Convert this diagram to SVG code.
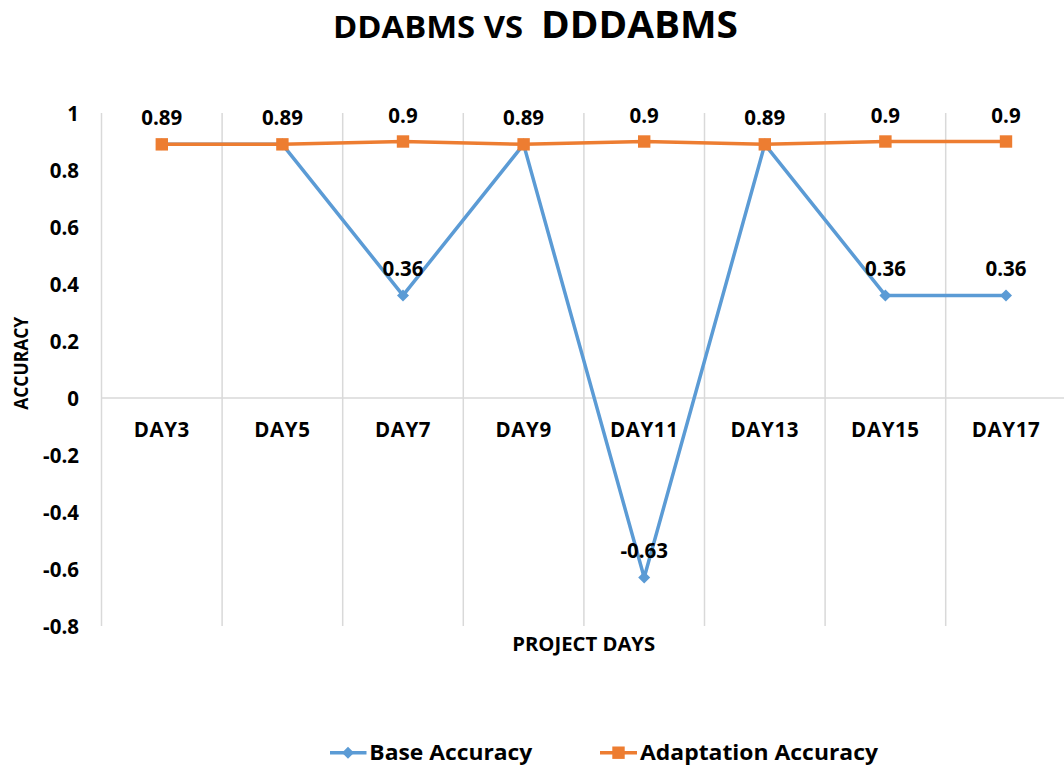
<svg xmlns="http://www.w3.org/2000/svg" width="1064" height="767" viewBox="0 0 1064 767">
<style>
text{font-family:"Open Sans","Noto Sans","Liberation Sans",sans-serif;font-weight:bold;fill:#000}
.tick{font-size:20.5px;text-anchor:end}
.cat{font-size:20.5px;text-anchor:middle;letter-spacing:0.6px}
.dl{font-size:20.5px;text-anchor:middle}
.grid{stroke:#d9d9d9;stroke-width:1.5;fill:none}
.base{stroke:#5b9bd5;stroke-width:3.5;fill:none;stroke-linejoin:round}
.adapt{stroke:#ed7d31;stroke-width:3.5;fill:none;stroke-linejoin:round}
.leg{font-size:21px}
</style>
<defs>
<path id="dia" d="M0,-6 L6,0 L0,6 L-6,0 Z" fill="#5b9bd5"/>
<rect id="sq" x="-6.2" y="-6.2" width="12.4" height="12.4" fill="#ed7d31"/>
</defs>
<rect width="1064" height="767" fill="#fff"/>
<g id="title">
<text x="333" y="38.3" font-size="29.5" textLength="190" lengthAdjust="spacingAndGlyphs">DDABMS VS</text>
<text x="541" y="38.3" font-size="37" textLength="197" lengthAdjust="spacingAndGlyphs">DDDABMS</text>
</g>
<g id="gridlines">
<line class="grid" x1="101.5" y1="113" x2="101.5" y2="626"/>
<line class="grid" x1="222.1" y1="113" x2="222.1" y2="626"/>
<line class="grid" x1="342.7" y1="113" x2="342.7" y2="626"/>
<line class="grid" x1="463.3" y1="113" x2="463.3" y2="626"/>
<line class="grid" x1="583.9" y1="113" x2="583.9" y2="626"/>
<line class="grid" x1="704.5" y1="113" x2="704.5" y2="626"/>
<line class="grid" x1="825.1" y1="113" x2="825.1" y2="626"/>
<line class="grid" x1="945.7" y1="113" x2="945.7" y2="626"/>
<line class="grid" x1="101.5" y1="398" x2="1064" y2="398"/>
</g>
<g id="y-axis">
<text class="tick" x="79" y="120.5">1</text>
<text class="tick" x="79" y="177.5">0.8</text>
<text class="tick" x="79" y="234.5">0.6</text>
<text class="tick" x="79" y="291.5">0.4</text>
<text class="tick" x="79" y="348.5">0.2</text>
<text class="tick" x="79" y="405.5">0</text>
<text class="tick" x="79" y="462.5">-0.2</text>
<text class="tick" x="79" y="519.5">-0.4</text>
<text class="tick" x="79" y="576.5">-0.6</text>
<text class="tick" x="79" y="633.5">-0.8</text>
<text x="0" y="0" font-size="18.8" text-anchor="middle" textLength="93" lengthAdjust="spacingAndGlyphs" transform="translate(28.3,363.3) rotate(-90)">ACCURACY</text>
</g>
<g id="x-axis">
<text class="cat" x="161.8" y="437">DAY3</text>
<text class="cat" x="282.4" y="437">DAY5</text>
<text class="cat" x="403" y="437">DAY7</text>
<text class="cat" x="523.6" y="437">DAY9</text>
<text class="cat" x="644.2" y="437">DAY11</text>
<text class="cat" x="764.8" y="437">DAY13</text>
<text class="cat" x="885.4" y="437">DAY15</text>
<text class="cat" x="1006" y="437">DAY17</text>
<text x="583.7" y="650.7" font-size="18.8" text-anchor="middle" textLength="143" lengthAdjust="spacingAndGlyphs">PROJECT DAYS</text>
</g>
<g id="connectors">
<polyline id="base-line" class="base" points="161.8,144.35 282.4,144.35 403,295.4 523.6,144.35 644.2,577.55 764.8,144.35 885.4,295.4 1006,295.4"/>
<g id="base-markers">
<use href="#dia" x="161.8" y="144.35"/>
<use href="#dia" x="282.4" y="144.35"/>
<use href="#dia" x="403" y="295.4"/>
<use href="#dia" x="523.6" y="144.35"/>
<use href="#dia" x="644.2" y="577.55"/>
<use href="#dia" x="764.8" y="144.35"/>
<use href="#dia" x="885.4" y="295.4"/>
<use href="#dia" x="1006" y="295.4"/>
</g>
<polyline id="adapt-line" class="adapt" points="161.8,144.35 282.4,144.35 403,141.5 523.6,144.35 644.2,141.5 764.8,144.35 885.4,141.5 1006,141.5"/>
<g id="adapt-markers">
<use href="#sq" x="161.8" y="144.35"/>
<use href="#sq" x="282.4" y="144.35"/>
<use href="#sq" x="403" y="141.5"/>
<use href="#sq" x="523.6" y="144.35"/>
<use href="#sq" x="644.2" y="141.5"/>
<use href="#sq" x="764.8" y="144.35"/>
<use href="#sq" x="885.4" y="141.5"/>
<use href="#sq" x="1006" y="141.5"/>
</g>
</g>
<g id="data-labels">
<text class="dl" x="161.8" y="125.3">0.89</text>
<text class="dl" x="282.4" y="125.3">0.89</text>
<text class="dl" x="403" y="122.5">0.9</text>
<text class="dl" x="523.6" y="125.3">0.89</text>
<text class="dl" x="644.2" y="122.5">0.9</text>
<text class="dl" x="764.8" y="125.3">0.89</text>
<text class="dl" x="885.4" y="122.5">0.9</text>
<text class="dl" x="1006" y="122.5">0.9</text>
<text class="dl" x="403" y="276">0.36</text>
<text class="dl" x="644.2" y="558.3">-0.63</text>
<text class="dl" x="885.4" y="276">0.36</text>
<text class="dl" x="1006" y="276">0.36</text>
</g>
<g id="legend">
<g id="legend-base">
<line class="base" x1="330" y1="752.7" x2="366.5" y2="752.7"/>
<use href="#dia" x="348" y="752.7"/>
<text class="leg" x="369.3" y="759.5" textLength="163" lengthAdjust="spacingAndGlyphs">Base Accuracy</text>
</g>
<g id="legend-adapt">
<line class="adapt" x1="600" y1="752.7" x2="637" y2="752.7"/>
<use href="#sq" x="618.5" y="752.7"/>
<text class="leg" x="640" y="759.5" textLength="238" lengthAdjust="spacingAndGlyphs">Adaptation Accuracy</text>
</g>
</g>
</svg>
